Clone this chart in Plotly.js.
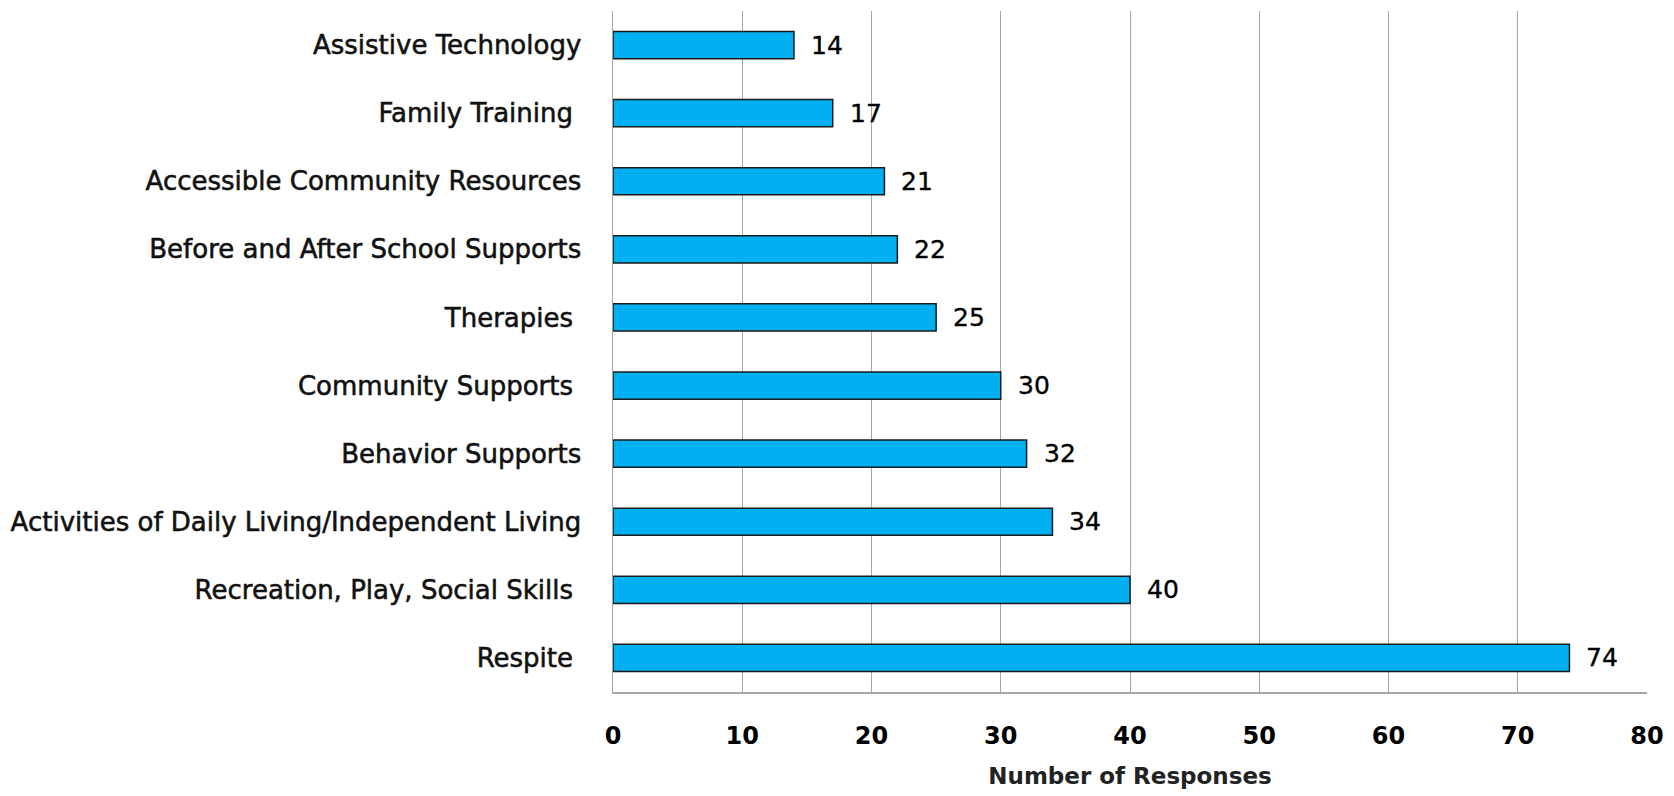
<!DOCTYPE html>
<html>
<head>
<meta charset="utf-8">
<script src="https://cdn.plot.ly/plotly-3.0.1.min.js"></script>
<style>
html,body{margin:0;padding:0;background:#fff;}
#chart{width:1674px;height:796px;}
#chart .ytick text{stroke:#111;stroke-width:0.55px;}
#chart .annotation-text{stroke:#000;stroke-width:0.35px;}
</style>
</head>
<body>
<div id="chart"></div>
<script>
const categories = [
  "Respite\u00a0",
  "Recreation, Play, Social Skills\u00a0",
  "Activities of Daily Living/Independent Living",
  "Behavior Supports",
  "Community Supports\u00a0",
  "Therapies\u00a0",
  "Before and After School Supports",
  "Accessible Community Resources",
  "Family Training\u00a0",
  "Assistive Technology"
];
const responses = [74, 40, 34, 32, 30, 25, 22, 21, 17, 14];
const xTicks = [0, 10, 20, 30, 40, 50, 60, 70, 80];

const FONT = "'DejaVu Sans', sans-serif";

const trace = {
  type: 'bar',
  orientation: 'h',
  y: categories,
  x: responses,
  marker: {color: '#00B0F0', line: {color: '#1a1a1a', width: 1.5}},
  hoverinfo: 'none'
};

const annotations = responses.map((v, i) => ({
  x: v, y: categories[i], xref: 'x', yref: 'y',
  text: String(v), showarrow: false, xanchor: 'left', xshift: 15,
  font: {family: FONT, size: 25, color: '#000'}
}));

const layout = {
  width: 1674, height: 796,
  margin: {l: 613, r: 27, t: 11, b: 104},
  paper_bgcolor: '#fff', plot_bgcolor: '#fff',
  bargap: 0.6,
  showlegend: false,
  xaxis: {
    range: [0, 80], tickvals: xTicks, ticktext: xTicks.map(String),
    showgrid: true, gridcolor: '#a6a6a6', gridwidth: 1,
    showline: true, linecolor: '#a6a6a6', linewidth: 1.5,
    zeroline: false, ticks: '', ticklabelstandoff: 22,
    tickfont: {family: FONT, size: 24, color: '#000', weight: 'bold'},
    title: {text: 'Number of Responses', font: {family: FONT, size: 23, color: '#222', weight: 'bold'}, standoff: 18},
    fixedrange: true
  },
  yaxis: {
    showgrid: false, showline: true, linecolor: '#a6a6a6', linewidth: 1.5,
    zeroline: false, ticks: '', ticklabelstandoff: 25,
    tickfont: {family: FONT, size: 26, color: '#111'},
    fixedrange: true
  },
  annotations: annotations
};

Plotly.newPlot('chart', [trace], layout, {displayModeBar: false, staticPlot: true});
</script>
</body>
</html>
